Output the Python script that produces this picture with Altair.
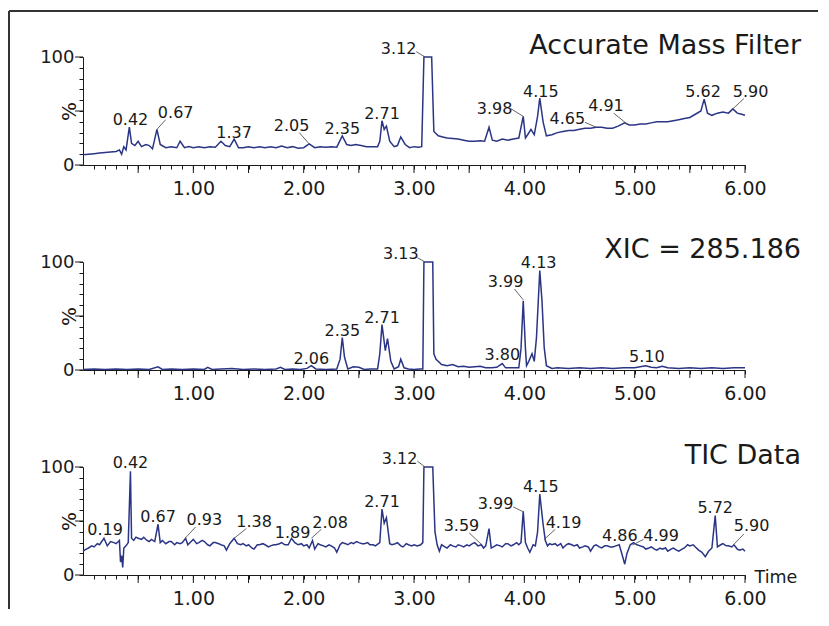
import altair as alt
import pandas as pd

# ---------------- data ----------------
# Panel 1: Accurate Mass Filter
amf_t = [0.00, 0.05, 0.10, 0.15, 0.20, 0.25, 0.30, 0.33, 0.35, 0.37, 0.39, 0.42, 0.44, 0.47, 0.50,
         0.53, 0.57, 0.60, 0.63, 0.67, 0.70, 0.75, 0.80, 0.85, 0.88, 0.92, 0.96, 1.00, 1.05, 1.10,
         1.15, 1.20, 1.25, 1.29, 1.33, 1.37, 1.41, 1.45, 1.50, 1.55, 1.60, 1.65, 1.70, 1.75, 1.80,
         1.85, 1.90, 1.95, 2.00, 2.05, 2.10, 2.15, 2.20, 2.25, 2.30, 2.35, 2.39, 2.43, 2.47, 2.52,
         2.57, 2.62, 2.67, 2.69, 2.71, 2.73, 2.75, 2.78, 2.82, 2.85, 2.88, 2.92, 2.96, 3.00, 3.04,
         3.07, 3.09, 3.16, 3.18, 3.22, 3.26, 3.30, 3.35, 3.40, 3.45, 3.50, 3.55, 3.60, 3.64, 3.68,
         3.71, 3.75, 3.80, 3.85, 3.90, 3.95, 3.99, 4.01, 4.03, 4.06, 4.09, 4.12, 4.14, 4.17, 4.20,
         4.25, 4.30, 4.35, 4.40, 4.45, 4.50, 4.55, 4.60, 4.65, 4.70, 4.75, 4.80, 4.85, 4.91, 4.95,
         5.00, 5.05, 5.10, 5.15, 5.20, 5.25, 5.30, 5.35, 5.40, 5.45, 5.50, 5.55, 5.60, 5.63, 5.66,
         5.70, 5.75, 5.80, 5.85, 5.89, 5.93, 5.97, 6.00]
amf_v = [9.5, 10, 10.5, 11, 11.5, 12, 12.5, 14, 10, 17, 14, 35, 20, 18, 22,
         17, 19, 18, 15, 33, 19, 16, 17, 16, 22, 16, 17, 16, 17, 16,
         17, 16.5, 22, 18, 17, 24, 16, 16, 17, 16, 17, 16, 17, 16, 17.5,
         16, 17, 15.5, 16, 19.5, 16, 17, 16.5, 17, 16.5, 27, 19, 18, 19, 18,
         17, 17, 17, 22, 41, 33, 36, 22, 17, 18, 26, 19, 16, 17, 16.5,
         17, 100, 100, 31, 27, 26, 25, 24.5, 24, 23, 22, 22, 22.5, 22, 35,
         23, 22, 24, 23, 24, 25, 45, 25, 28, 33, 28, 45, 62, 40, 27,
         28, 30, 31, 32, 32, 33, 34, 34, 35, 35, 34, 34, 36, 39, 37,
         37, 38, 38, 39, 40, 40, 40, 41, 42, 43, 44, 47, 50, 61, 48,
         46, 48, 49, 48, 52, 48, 47, 46]
amf_labels = ["0.42", "0.67", "1.37", "2.05", "2.35", "2.71", "3.12", "3.98", "4.15",
              "4.65", "4.91", "5.62", "5.90"]
amf_lab_t = [0.43, 0.84, 1.37, 1.89, 2.35, 2.71, 2.86, 3.73, 4.15, 4.39, 4.74, 5.62, 6.05]
amf_lab_v = [42.6, 49, 30.5, 37, 34, 48, 108, 53, 68.5, 43.5, 55.5, 68.5, 68.5]
amf_lead_t = [0.67, 2.05, 3.10, 3.99, 4.65, 4.93, 5.89]
amf_lead_v = [33, 19.5, 100, 45, 35, 38, 52]
amf_lead_t2 = [0.75, 1.96, 3.02, 3.88, 4.55, 4.81, 5.99]
amf_lead_v2 = [42, 30, 105, 52, 39.5, 48, 61.5]

# Panel 2: XIC = 285.186
xic_t = [0.00, 0.10, 0.20, 0.30, 0.40, 0.50, 0.60, 0.68, 0.72, 0.80, 0.90, 1.00, 1.10, 1.13, 1.17,
         1.25, 1.35, 1.45, 1.55, 1.65, 1.75, 1.79, 1.83, 1.90, 1.97, 2.03, 2.07, 2.11, 2.20, 2.30,
         2.33, 2.35, 2.37, 2.40, 2.45, 2.50, 2.55, 2.60, 2.67, 2.69, 2.71, 2.74, 2.76, 2.79, 2.82,
         2.86, 2.88, 2.91, 2.95, 3.00, 3.05, 3.08, 3.09, 3.17, 3.18, 3.20, 3.25, 3.30, 3.35, 3.40,
         3.45, 3.50, 3.55, 3.60, 3.65, 3.70, 3.75, 3.80, 3.83, 3.90, 3.95, 3.97, 3.99, 4.01, 4.02,
         4.04, 4.07, 4.09, 4.11, 4.14, 4.16, 4.18, 4.20, 4.25, 4.30, 4.40, 4.50, 4.60, 4.70, 4.80,
         4.90, 5.00, 5.05, 5.10, 5.15, 5.20, 5.25, 5.30, 5.40, 5.50, 5.60, 5.70, 5.80, 5.90, 6.00]
xic_v = [0.5, 1, 0.5, 1, 0.5, 1, 0.5, 3, 0.5, 1, 0.5, 1, 0.5, 2.5, 0.5,
         1, 1.5, 0.5, 1, 0.5, 1, 2.5, 0.5, 1, 0.5, 1.5, 4, 1, 0.5, 1,
         10, 30, 12, 1, 3, 2.5, 0.5, 1, 1, 15, 42, 18, 29, 8, 1,
         3, 10, 2, 1, 0.5, 1, 1, 100, 100, 15, 10, 5, 4, 5, 3,
         3.5, 2.5, 3, 3.5, 2, 2, 2.5, 6, 2, 2, 2, 20, 64, 20, 4,
         8, 15, 8, 30, 92, 64, 21, 4, 1.5, 2, 1.5, 2, 1.5, 2, 1.5,
         2, 2, 3, 4, 2.5, 2, 3.5, 2, 1.5, 2, 1.5, 2, 1.5, 2, 2]
xic_labels = ["2.06", "2.35", "2.71", "3.13", "3.80", "3.99", "4.13", "5.10"]
xic_lab_t = [2.07, 2.35, 2.71, 2.88, 3.80, 3.83, 4.13, 5.11]
xic_lab_v = [11.4, 36.7, 49, 108.6, 14.5, 82.4, 100, 13]
xic_lead_t = [3.10, 3.99]
xic_lead_v = [100, 65]
xic_lead_t2 = [3.03, 3.91]
xic_lead_v2 = [104, 75]

# Panel 3: TIC Data
tic_t = [0.00, 0.03, 0.05, 0.08, 0.10, 0.13, 0.15, 0.19, 0.22, 0.25, 0.28, 0.30, 0.33, 0.34, 0.35,
         0.36, 0.37, 0.39, 0.41, 0.43, 0.44, 0.46, 0.48, 0.50, 0.53, 0.55, 0.58, 0.60, 0.62, 0.65,
         0.68, 0.70, 0.72, 0.75, 0.78, 0.80, 0.83, 0.85, 0.88, 0.90, 0.93, 0.95, 0.98, 1.00, 1.03,
         1.05, 1.08, 1.10, 1.13, 1.15, 1.18, 1.20, 1.23, 1.25, 1.28, 1.30, 1.33, 1.37, 1.40, 1.43,
         1.45, 1.48, 1.50, 1.53, 1.55, 1.58, 1.60, 1.63, 1.65, 1.68, 1.70, 1.73, 1.75, 1.78, 1.80,
         1.83, 1.86, 1.89, 1.92, 1.95, 1.98, 2.00, 2.03, 2.05, 2.08, 2.10, 2.13, 2.15, 2.18, 2.20,
         2.23, 2.25, 2.28, 2.30, 2.33, 2.35, 2.38, 2.40, 2.43, 2.45, 2.48, 2.50, 2.53, 2.55, 2.58,
         2.60, 2.63, 2.65, 2.69, 2.71, 2.73, 2.75, 2.78, 2.80, 2.83, 2.85, 2.88, 2.90, 2.93, 2.95,
         2.98, 3.00, 3.03, 3.06, 3.08, 3.09, 3.17, 3.19, 3.21, 3.23, 3.25, 3.28, 3.30, 3.33, 3.35,
         3.38, 3.40, 3.43, 3.45, 3.48, 3.50, 3.53, 3.55, 3.58, 3.61, 3.63, 3.65, 3.68, 3.70, 3.72,
         3.75, 3.78, 3.80, 3.83, 3.85, 3.88, 3.90, 3.93, 3.95, 3.97, 3.99, 4.01, 4.03, 4.05, 4.08,
         4.10, 4.12, 4.14, 4.17, 4.19, 4.21, 4.23, 4.25, 4.28, 4.30, 4.33, 4.35, 4.38, 4.40, 4.43,
         4.45, 4.48, 4.50, 4.53, 4.55, 4.58, 4.60, 4.63, 4.65, 4.68, 4.70, 4.73, 4.75, 4.78, 4.80,
         4.83, 4.86, 4.88, 4.91, 4.93, 4.96, 4.99, 5.02, 5.05, 5.08, 5.10, 5.13, 5.15, 5.18, 5.20,
         5.23, 5.25, 5.28, 5.30, 5.33, 5.35, 5.38, 5.40, 5.43, 5.45, 5.48, 5.50, 5.53, 5.55, 5.58,
         5.61, 5.64, 5.67, 5.70, 5.73, 5.75, 5.78, 5.80, 5.83, 5.85, 5.88, 5.90, 5.93, 5.95, 5.98,
         6.00]
tic_v = [22, 24, 25, 27, 26, 29, 28, 34, 27, 31, 30, 29, 32, 12, 18,
         7, 25, 27, 30, 96, 34, 32, 35, 34, 33, 35, 32, 31, 33, 31,
         47, 30, 32, 29, 31, 31, 28, 30, 29, 30, 34, 28, 31, 33, 29,
         30, 32, 31, 28, 27, 30, 30, 29, 28, 27, 23, 29, 34, 29, 28,
         29, 27, 28, 25, 24, 28, 28, 29, 28, 26, 27, 28, 28, 29, 30,
         28, 28, 34, 30, 28, 29, 27, 28, 25, 32, 24, 29, 28, 27, 26,
         28, 27, 25, 21, 28, 30, 29, 28, 30, 29, 31, 30, 29, 29, 30,
         28, 28, 27, 30, 61, 48, 53, 29, 28, 29, 30, 27, 26, 29, 28,
         27, 28, 27, 28, 30, 100, 100, 40, 28, 22, 28, 26, 25, 28, 27,
         26, 28, 27, 26, 28, 27, 29, 30, 27, 28, 25, 27, 43, 25, 26,
         28, 27, 26, 29, 29, 27, 28, 30, 28, 30, 59, 30, 25, 21, 28,
         27, 40, 75, 47, 32, 27, 29, 28, 29, 27, 29, 25, 28, 29, 28,
         27, 28, 25, 26, 27, 26, 22, 27, 28, 26, 25, 27, 27, 26, 26,
         27, 28, 21, 10, 20, 28, 30, 28, 27, 26, 24, 25, 26, 24, 23,
         25, 24, 25, 22, 24, 25, 23, 22, 24, 25, 28, 27, 28, 26, 23,
         21, 17, 22, 25, 55, 26, 28, 29, 27, 27, 26, 28, 24, 23, 24,
         22]
tic_labels = ["0.19", "0.42", "0.67", "0.93", "1.38", "1.89", "2.08", "2.71", "3.12", "3.59",
              "3.99", "4.15", "4.19", "4.86", "4.99", "5.72", "5.90"]
tic_lab_t = [0.20, 0.43, 0.68, 1.10, 1.55, 1.90, 2.24, 2.71, 2.87, 3.43,
             3.74, 4.15, 4.355, 4.865, 5.24, 5.73, 6.06]
tic_lab_v = [43, 104.6, 55, 51.5, 50, 40, 49, 68.5, 108, 46,
             67, 82.4, 49.4, 36.7, 36.7, 63, 46.3]
tic_lead_t = [0.93, 1.37, 2.07, 3.10, 3.61, 3.99, 4.18, 4.98, 5.90]
tic_lead_v = [34.5, 34, 34, 100, 28.4, 58.6, 33, 27.8, 28.4]
tic_lead_t2 = [1.02, 1.48, 2.16, 3.03, 3.50, 3.90, 4.28, 5.08, 5.99]
tic_lead_v2 = [44.4, 43, 42.3, 105.5, 39, 63, 42.3, 33, 38]

titles = ["Accurate Mass Filter", "XIC = 285.186", "TIC Data"]

x_ticks = [round(i * 0.1, 1) for i in range(1, 61)]
x_major = [0.5, 1.0, 1.5, 2.0, 2.5, 3.0, 3.5, 4.0, 4.5, 5.0, 5.5, 6.0]
y_ticks = [0, 10, 20, 30, 40, 50, 60, 70, 80, 90, 100]
y_major = [0, 50, 100]

# ---------------- style ----------------
LINE = "#2b3585"
INK = "#1a1a1a"
FONT = "DejaVu Sans"
W, H = 662, 108


def xenc(x_title=None):
    ax = dict(values=x_ticks, tickSize=4, tickColor=INK, domainColor=INK,
              labelExpr="abs(datum.value - round(datum.value)) < 0.001 ? format(datum.value, '.2f') : ''",
              labelFont=FONT, labelFontSize=19, labelColor=INK, labelPadding=10,
              labelOverlap=False, labelFlush=False, grid=False, title=x_title)
    if x_title:
        ax.update(titleX=671, titleY=2, titleAlign="left", titleBaseline="middle",
                  titleAngle=0, titleFont=FONT, titleFontSize=17.5,
                  titleFontWeight="normal", titleColor=INK)
    return alt.X("t:Q", scale=alt.Scale(domain=[0, 6], nice=False, zero=False),
                 axis=alt.Axis(**ax))


def yenc():
    return alt.Y("v:Q", scale=alt.Scale(domain=[0, 100], nice=False),
                 axis=alt.Axis(values=y_ticks, tickSize=4, tickColor=INK, domainColor=INK,
                               labelExpr="datum.value == 0 || datum.value == 100 ? datum.label : ''",
                               labelFont=FONT, labelFontSize=18, labelColor=INK,
                               labelPadding=5, labelOverlap=False, labelFlush=False, grid=False,
                               title="%", titleX=-14, titleY=H / 2, titleAngle=270,
                               titleAlign="center", titleBaseline="middle", titleFont=FONT,
                               titleFontSize=20, titleFontWeight="normal", titleColor=INK))


def panel(t, v, labels, lt, lv, l1t, l1v, l2t, l2v, title, title_y, x_title=None, border=False):
    X = xenc(x_title)
    Y = yenc()
    line = alt.Chart(pd.DataFrame({"t": t, "v": v})).mark_line(
        color=LINE, strokeWidth=1.5).encode(x=X, y=Y)
    lead = alt.Chart(pd.DataFrame({"t": l1t, "v": l1v, "t2": l2t, "v2": l2v})).mark_rule(
        color="#555555", strokeWidth=0.9).encode(x=X, y=Y, x2="t2:Q", y2="v2:Q")
    lab = alt.Chart(pd.DataFrame({"t": lt, "v": lv, "s": labels})).mark_text(
        font=FONT, fontSize=16, color=INK, baseline="middle", dy=1).encode(x=X, y=Y, text="s:N")
    xmaj = alt.Chart(pd.DataFrame({"t": x_major})).mark_rule(color=INK, strokeWidth=1).encode(
        x=X, y=alt.value(H), y2=alt.value(H + 8))
    ymaj = alt.Chart(pd.DataFrame({"v": y_major})).mark_rule(color=INK, strokeWidth=1).encode(
        y=Y, x=alt.value(0), x2=alt.value(-8))
    ttl = alt.Chart(pd.DataFrame({"s": [title]})).mark_text(
        font=FONT, fontSize=27, color=INK, align="right", baseline="middle").encode(
        x=alt.value(718), y=alt.value(title_y), text="s:N")
    layers = [line, lead, lab, xmaj, ymaj, ttl]
    if border:
        one = pd.DataFrame({"k": [0]})
        top = alt.Chart(one).mark_rule(color="#333333", strokeWidth=2).encode(
            x=alt.value(-74), x2=alt.value(735), y=alt.value(-46))
        left = alt.Chart(one).mark_rule(color="#333333", strokeWidth=2).encode(
            x=alt.value(-74), y=alt.value(-46), y2=alt.value(552))
        layers += [top, left]
    return alt.layer(*layers).properties(width=W, height=H)


p1 = panel(amf_t, amf_v, amf_labels, amf_lab_t, amf_lab_v,
           amf_lead_t, amf_lead_v, amf_lead_t2, amf_lead_v2, titles[0], -11, border=True)
p2 = panel(xic_t, xic_v, xic_labels, xic_lab_t, xic_lab_v,
           xic_lead_t, xic_lead_v, xic_lead_t2, xic_lead_v2, titles[1], -12)
p3 = panel(tic_t, tic_v, tic_labels, tic_lab_t, tic_lab_v,
           tic_lead_t, tic_lead_v, tic_lead_t2, tic_lead_v2, titles[2], -11, x_title="Time")

chart = alt.vconcat(p1, p2, p3, spacing=97, bounds="flush").properties(
    padding={"top": 2, "left": 0, "right": 0, "bottom": 0},
    background="white",
).configure_view(strokeWidth=0)

chart.save("out.html", embed_options={"renderer": "svg", "actions": False})
